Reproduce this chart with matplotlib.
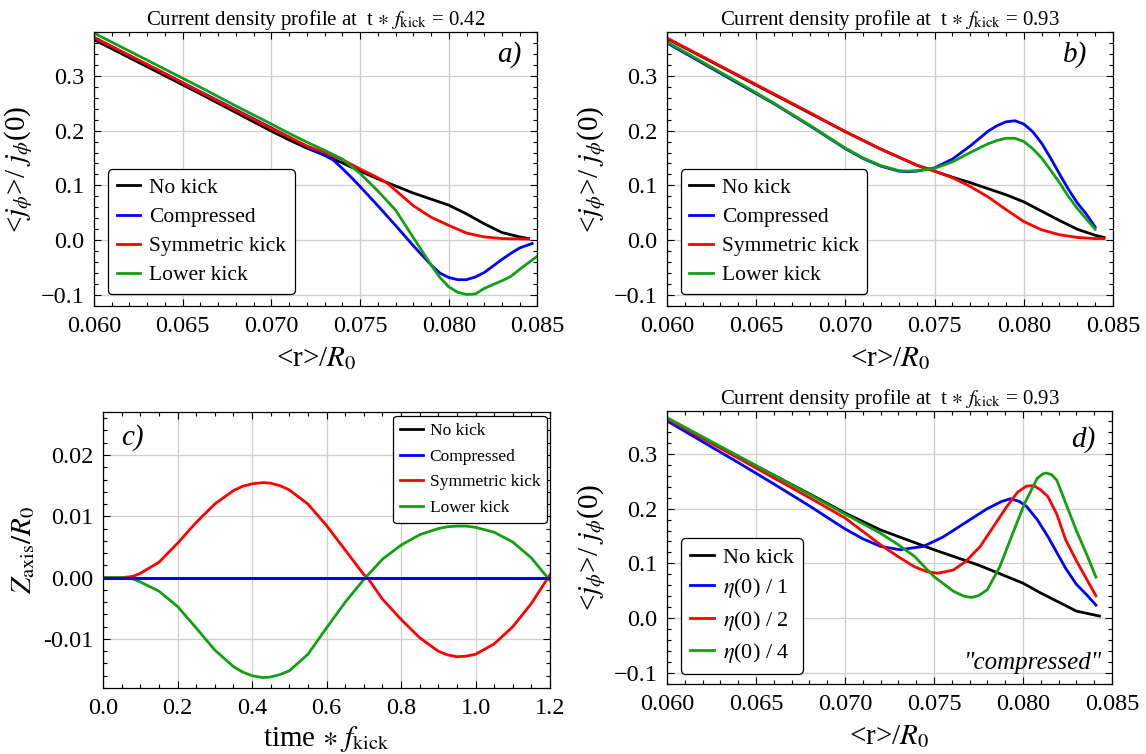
import matplotlib
matplotlib.use("Agg")
import matplotlib.pyplot as plt
from matplotlib.ticker import MultipleLocator, FuncFormatter

plt.rcParams["font.family"] = "serif"
plt.rcParams["font.serif"] = ["Liberation Serif", "DejaVu Serif"]
plt.rcParams["mathtext.fontset"] = "stix"

# ---- panel a: profiles at t*f_kick = 0.42 ----
ra_black = [0.060, 0.062, 0.064, 0.066, 0.068, 0.070, 0.071, 0.072, 0.073, 0.074, 0.075,
            0.076, 0.077, 0.078, 0.079, 0.080, 0.081, 0.082, 0.083, 0.084, 0.0845]
ja_black = [0.366, 0.333, 0.300, 0.267, 0.233, 0.199, 0.183, 0.168, 0.155, 0.141, 0.126,
            0.112, 0.099, 0.086, 0.075, 0.064, 0.048, 0.030, 0.014, 0.006, 0.003]

ra_red = [0.060, 0.062, 0.064, 0.066, 0.068, 0.070, 0.071, 0.072, 0.073, 0.074, 0.075,
          0.076, 0.0765, 0.077, 0.0775, 0.078, 0.079, 0.080, 0.081, 0.082, 0.083, 0.0845]
ja_red = [0.370, 0.337, 0.304, 0.270, 0.237, 0.204, 0.188, 0.172, 0.160, 0.147, 0.130,
          0.114, 0.105, 0.091, 0.077, 0.063, 0.042, 0.027, 0.013, 0.006, 0.003, 0.002]

ra_blue = [0.060, 0.062, 0.064, 0.066, 0.068, 0.070, 0.071, 0.072, 0.073, 0.0735, 0.074,
           0.0745, 0.075, 0.076, 0.077, 0.078, 0.079, 0.0795, 0.080, 0.0805, 0.081, 0.0815,
           0.082, 0.083, 0.0835, 0.084, 0.0847]
ja_blue = [0.370, 0.337, 0.304, 0.271, 0.238, 0.205, 0.188, 0.171, 0.155, 0.146, 0.131,
           0.115, 0.098, 0.063, 0.027, -0.010, -0.045, -0.060, -0.068, -0.072, -0.072, -0.067,
           -0.059, -0.035, -0.024, -0.014, -0.006]

ra_green = [0.060, 0.062, 0.064, 0.066, 0.068, 0.070, 0.071, 0.072, 0.073, 0.074, 0.075,
            0.076, 0.077, 0.078, 0.079, 0.0795, 0.080, 0.0805, 0.081, 0.0815, 0.082, 0.0825,
            0.083, 0.0835, 0.084, 0.0845, 0.085]
ja_green = [0.378, 0.345, 0.312, 0.279, 0.245, 0.212, 0.195, 0.179, 0.164, 0.148, 0.122,
            0.090, 0.055, 0.005, -0.045, -0.068, -0.085, -0.095, -0.099, -0.098, -0.088, -0.081,
            -0.074, -0.066, -0.053, -0.041, -0.029]

# ---- panel b: profiles at t*f_kick = 0.93 ----
rb_black = [0.060, 0.062, 0.064, 0.066, 0.068, 0.070, 0.072, 0.074, 0.075, 0.076, 0.077,
            0.078, 0.079, 0.080, 0.081, 0.082, 0.083, 0.084, 0.0845]
jb_black = [0.368, 0.334, 0.300, 0.266, 0.232, 0.198, 0.166, 0.137, 0.126, 0.115, 0.105,
            0.094, 0.083, 0.070, 0.053, 0.036, 0.020, 0.009, 0.005]

rb_red = [0.060, 0.062, 0.064, 0.066, 0.068, 0.070, 0.072, 0.074, 0.075, 0.076, 0.077,
          0.078, 0.079, 0.080, 0.081, 0.082, 0.083, 0.084, 0.0845]
jb_red = [0.369, 0.335, 0.301, 0.267, 0.233, 0.198, 0.166, 0.137, 0.126, 0.114, 0.098,
          0.079, 0.056, 0.034, 0.019, 0.010, 0.005, 0.003, 0.003]

rb_blue = [0.060, 0.062, 0.064, 0.066, 0.068, 0.070, 0.071, 0.072, 0.073, 0.0735, 0.074,
           0.075, 0.076, 0.077, 0.078, 0.0785, 0.079, 0.0795, 0.080, 0.0805, 0.081, 0.0815,
           0.082, 0.0825, 0.083, 0.0835, 0.084]
jb_blue = [0.360, 0.323, 0.286, 0.249, 0.209, 0.167, 0.149, 0.135, 0.126, 0.125, 0.126,
           0.132, 0.148, 0.172, 0.199, 0.209, 0.216, 0.218, 0.212, 0.198, 0.177, 0.150,
           0.121, 0.093, 0.068, 0.048, 0.024]

rb_green = [0.060, 0.062, 0.064, 0.066, 0.068, 0.070, 0.071, 0.072, 0.073, 0.0735, 0.074,
            0.075, 0.076, 0.077, 0.078, 0.0785, 0.079, 0.0795, 0.080, 0.0805, 0.081, 0.0815,
            0.082, 0.0825, 0.083, 0.0835, 0.084]
jb_green = [0.362, 0.325, 0.288, 0.250, 0.210, 0.168, 0.150, 0.136, 0.127, 0.126, 0.127,
            0.131, 0.143, 0.160, 0.176, 0.182, 0.186, 0.186, 0.180, 0.167, 0.150, 0.128,
            0.105, 0.080, 0.058, 0.039, 0.020]

# ---- panel c: vertical axis position vs time ----
t_flat = [0.0, 1.2]
z_flat = [0.0, 0.0]

t_sym = [0.0, 0.05, 0.08, 0.10, 0.15, 0.20, 0.25, 0.30, 0.35, 0.375, 0.40, 0.43, 0.45,
         0.475, 0.50, 0.55, 0.60, 0.65, 0.70, 0.71, 0.75, 0.80, 0.85, 0.90, 0.925, 0.95,
         0.975, 1.00, 1.05, 1.10, 1.15, 1.20]
z_sym = [0.0, 0.0, 0.0002, 0.0007, 0.0025, 0.0056, 0.0090, 0.0120, 0.0142, 0.0149, 0.0153,
         0.0155, 0.0154, 0.0150, 0.0143, 0.0120, 0.0085, 0.0045, 0.0005, 0.0, -0.0035,
         -0.0068, -0.0098, -0.0120, -0.0126, -0.0129, -0.0128, -0.0125, -0.0108, -0.0080,
         -0.0042, 0.0005]

t_low = [0.0, 0.05, 0.08, 0.10, 0.15, 0.20, 0.25, 0.30, 0.35, 0.375, 0.40, 0.43, 0.45,
         0.475, 0.50, 0.55, 0.60, 0.65, 0.70, 0.75, 0.80, 0.85, 0.90, 0.925, 0.95, 0.975,
         1.00, 1.05, 1.10, 1.15, 1.20]
z_low = [0.0, 0.0, -0.0002, -0.0007, -0.0022, -0.0047, -0.0082, -0.0118, -0.0145, -0.0154,
         -0.0160, -0.0163, -0.0162, -0.0158, -0.0152, -0.0125, -0.0082, -0.0040, -0.0003,
         0.0030, 0.0053, 0.0070, 0.0080, 0.0083, 0.0084, 0.0084, 0.0082, 0.0074, 0.0058,
         0.0032, -0.0005]

# ---- panel d: compressed case, reduced resistivity ----
rd_black = [0.060, 0.062, 0.064, 0.066, 0.068, 0.070, 0.072, 0.075, 0.0775, 0.080, 0.081,
            0.0824, 0.083, 0.0843]
jd_black = [0.362, 0.328, 0.295, 0.261, 0.227, 0.192, 0.161, 0.125, 0.097, 0.064, 0.046,
            0.023, 0.013, 0.004]

rd_eta1 = [0.060, 0.062, 0.064, 0.066, 0.068, 0.070, 0.071, 0.072, 0.0731, 0.0744, 0.0755,
           0.0767, 0.078, 0.0788, 0.0793, 0.0798, 0.0802, 0.0808, 0.0814, 0.0819, 0.0824,
           0.083, 0.0836, 0.0841]
jd_eta1 = [0.360, 0.322, 0.284, 0.245, 0.205, 0.163, 0.145, 0.131, 0.125, 0.131, 0.148,
           0.173, 0.200, 0.213, 0.218, 0.213, 0.204, 0.180, 0.149, 0.120, 0.091, 0.062,
           0.042, 0.024]

rd_eta2 = [0.060, 0.062, 0.064, 0.066, 0.068, 0.070, 0.072, 0.073, 0.0739, 0.0746, 0.0752,
           0.0761, 0.0768, 0.0776, 0.0784, 0.0791, 0.0797, 0.0802, 0.0806, 0.0810, 0.0814,
           0.0819, 0.0824, 0.083, 0.0836, 0.0841]
jd_eta2 = [0.364, 0.328, 0.292, 0.256, 0.220, 0.183, 0.134, 0.112, 0.094, 0.085, 0.082,
           0.088, 0.104, 0.131, 0.170, 0.204, 0.230, 0.241, 0.242, 0.234, 0.222, 0.190,
           0.143, 0.105, 0.070, 0.041]

rd_eta4 = [0.060, 0.062, 0.064, 0.066, 0.068, 0.070, 0.072, 0.073, 0.0739, 0.075, 0.0761,
           0.0767, 0.0771, 0.0775, 0.0780, 0.0787, 0.0795, 0.0801, 0.0808, 0.0811, 0.0813,
           0.0816, 0.0819, 0.0824, 0.083, 0.0836, 0.0841]
jd_eta4 = [0.366, 0.331, 0.296, 0.261, 0.226, 0.190, 0.155, 0.134, 0.113, 0.076, 0.049,
           0.040, 0.038, 0.041, 0.052, 0.094, 0.161, 0.210, 0.255, 0.263, 0.265, 0.262,
           0.252, 0.210, 0.160, 0.115, 0.075]

GREEN = "#11a011"
LW = 2.0

fig = plt.figure(figsize=(11.46, 7.54), dpi=100)
ax_a = fig.add_axes([0.0820, 0.5942, 0.3870, 0.3634])
ax_b = fig.add_axes([0.5820, 0.5942, 0.3892, 0.3634])
ax_c = fig.add_axes([0.0899, 0.0875, 0.3901, 0.3660])
ax_d = fig.add_axes([0.5820, 0.0928, 0.3883, 0.3621])


def frame_style(ax, xmaj, xmin, ymaj, ymin):
    ax.xaxis.set_major_locator(MultipleLocator(xmaj))
    ax.xaxis.set_minor_locator(MultipleLocator(xmin))
    ax.yaxis.set_major_locator(MultipleLocator(ymaj))
    ax.yaxis.set_minor_locator(MultipleLocator(ymin))
    ax.tick_params(which="both", direction="in", top=True, right=True,
                   labelsize=17.5, width=0.8)
    ax.tick_params(which="major", length=5, pad=7)
    ax.tick_params(which="minor", length=3)
    ax.grid(True, which="major", color="#cfcfcf", lw=0.9)
    ax.set_axisbelow(True)
    for sp in ax.spines.values():
        sp.set_linewidth(0.9)


def legend_box(ax, **kw):
    leg = ax.legend(frameon=True, fancybox=True, framealpha=1, edgecolor="black",
                    borderaxespad=0, handletextpad=0.4, **kw)
    leg.get_frame().set_linewidth(0.9)
    return leg


ylab = r"<$j_{\phi}$>/ $j_{\phi}$(0)"
xlab = r"<r>/$R_0$"
LAB = 21

# a)
ax_a.plot(ra_black, ja_black, color="black", lw=LW, label="No kick")
ax_a.plot(ra_blue, ja_blue, color="blue", lw=LW, label="Compressed")
ax_a.plot(ra_red, ja_red, color="red", lw=LW, label="Symmetric kick")
ax_a.plot(ra_green, ja_green, color=GREEN, lw=LW, label="Lower kick")
ax_a.set_xlim(0.060, 0.085)
ax_a.set_ylim(-0.12, 0.38)
frame_style(ax_a, 0.005, 0.001, 0.1, 0.02)
ax_a.set_title(r"Current density profile at  t $\ast$ $f_{\mathrm{kick}}$ = 0.42",
               fontsize=15, pad=4)
ax_a.set_ylabel(ylab, fontsize=LAB, labelpad=4)
ax_a.set_xlabel(xlab, fontsize=LAB, labelpad=6)
legend_box(ax_a, loc="lower left", bbox_to_anchor=(0.032, 0.044), fontsize=15.5,
           handlelength=1.1, labelspacing=0.42)
ax_a.text(0.936, 0.916, "a)", transform=ax_a.transAxes, fontsize=21, style="italic",
          ha="center", va="center")

# b)
ax_b.plot(rb_black, jb_black, color="black", lw=LW, label="No kick")
ax_b.plot(rb_blue, jb_blue, color="blue", lw=LW, label="Compressed")
ax_b.plot(rb_red, jb_red, color="red", lw=LW, label="Symmetric kick")
ax_b.plot(rb_green, jb_green, color=GREEN, lw=LW, label="Lower kick")
ax_b.set_xlim(0.060, 0.085)
ax_b.set_ylim(-0.12, 0.38)
frame_style(ax_b, 0.005, 0.001, 0.1, 0.02)
ax_b.set_title(r"Current density profile at  t $\ast$ $f_{\mathrm{kick}}$ = 0.93",
               fontsize=15, pad=4)
ax_b.set_ylabel(ylab, fontsize=LAB, labelpad=4)
ax_b.set_xlabel(xlab, fontsize=LAB, labelpad=6)
legend_box(ax_b, loc="lower left", bbox_to_anchor=(0.031, 0.044), fontsize=15.5,
           handlelength=1.1, labelspacing=0.42)
ax_b.text(0.915, 0.916, "b)", transform=ax_b.transAxes, fontsize=21,
          ha="center", va="center", family="Liberation Serif", style="italic")

# c)
ax_c.plot(t_flat, z_flat, color="black", lw=LW, label="No kick")
ax_c.plot(t_flat, z_flat, color="blue", lw=LW, label="Compressed", zorder=3)
ax_c.plot(t_sym, z_sym, color="red", lw=LW, label="Symmetric kick")
ax_c.plot(t_low, z_low, color=GREEN, lw=LW, label="Lower kick")
ax_c.set_xlim(0.0, 1.2)
ax_c.set_ylim(-0.018, 0.027)
frame_style(ax_c, 0.2, 0.05, 0.01, 0.002)
ax_c.set_ylabel(r"$Z_{\mathrm{axis}}/R_0$", fontsize=LAB, labelpad=4)
ax_c.set_xlabel(r"time $\ast$ $f_{\mathrm{kick}}$", fontsize=LAB, labelpad=4)
ax_c.yaxis.set_major_formatter(FuncFormatter(
    lambda v, p: "0.00" if abs(v) < 1e-9 else "%.2f" % v))
legend_box(ax_c, loc="upper right", bbox_to_anchor=(0.993, 0.986), fontsize=12.5,
           handlelength=1.3, labelspacing=0.55)
ax_c.text(0.065, 0.909, "c)", transform=ax_c.transAxes, fontsize=21, style="italic",
          ha="center", va="center")

# d)
ax_d.plot(rd_black, jd_black, color="black", lw=LW, label="No kick")
ax_d.plot(rd_eta1, jd_eta1, color="blue", lw=LW, label=r"$\eta$(0) / 1")
ax_d.plot(rd_eta2, jd_eta2, color="red", lw=LW, label=r"$\eta$(0) / 2")
ax_d.plot(rd_eta4, jd_eta4, color=GREEN, lw=LW, label=r"$\eta$(0) / 4")
ax_d.set_xlim(0.060, 0.085)
ax_d.set_ylim(-0.12, 0.378)
frame_style(ax_d, 0.005, 0.001, 0.1, 0.02)
ax_d.set_title(r"Current density profile at  t $\ast$ $f_{\mathrm{kick}}$ = 0.93",
               fontsize=15, pad=4)
ax_d.set_ylabel(ylab, fontsize=LAB, labelpad=4)
ax_d.set_xlabel(xlab, fontsize=LAB, labelpad=6)
legend_box(ax_d, loc="lower left", bbox_to_anchor=(0.031, 0.037), fontsize=16,
           handlelength=1.1, labelspacing=0.38)
ax_d.text(0.935, 0.894, "d)", transform=ax_d.transAxes, fontsize=21, style="italic",
          ha="center", va="center")
ax_d.text(0.822, 0.077, '"compressed"', transform=ax_d.transAxes, fontsize=18,
          style="italic", ha="center", va="center")

fig.savefig("out.png", dpi=100)
